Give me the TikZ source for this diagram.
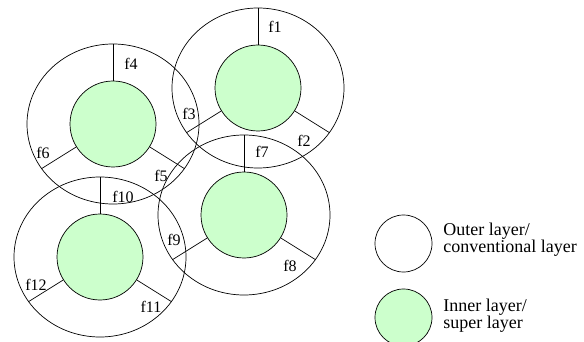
\documentclass[tikz,border=0pt]{standalone}
\usepackage{fontspec}
\setmainfont{Liberation Serif}
\usetikzlibrary{shapes.geometric}
\definecolor{supergreen}{HTML}{CCFFCC}

\begin{document}
\begin{tikzpicture}[x=1pt, y=-1pt, line width=0.7pt,
    outerlayer/.style={draw, ellipse, minimum width=172pt, minimum height=160pt, inner sep=0},
    innerlayer/.style={draw, circle, fill=supergreen, minimum size=86pt, inner sep=0},
    keycircle/.style={draw, circle, minimum size=57pt, inner sep=0},
    freq/.style={font=\fontsize{16}{16}\selectfont, inner sep=0},
    keytext/.style={font=\fontsize{18}{17}\selectfont, align=left, anchor=west, inner sep=0}]
    \useasboundingbox (0,0) rectangle (584,342);
    \clip (0,0) rectangle (584,342);

    % outer layers
    \node[outerlayer] (o1) at (258,88) {};
    \node[outerlayer] (o2) at (113,124) {};
    \node[outerlayer] (o3) at (100,257) {};
    \node[outerlayer] (o4) at (244,215) {};

    % inner layers
    \node[innerlayer] (i1) at (258,88) {};
    \node[innerlayer] (i2) at (113,124) {};
    \node[innerlayer] (i3) at (100,257) {};
    \node[innerlayer] (i4) at (244,215) {};

    % sector borders
    \foreach \c in {1,...,4}{
        \draw (i\c.90) -- (o\c.90);
        \draw (i\c.-32) -- (o\c.-32);
        \draw (i\c.212) -- (o\c.212);
    }

    % frequencies
    \node[freq] (f1) at (275,27) {f1};
    \node[freq] (f2) at (304,141) {f2};
    \node[freq] (f3) at (189,114) {f3};
    \node[freq] (f4) at (131,64) {f4};
    \node[freq] (f5) at (161,176) {f5};
    \node[freq] (f6) at (43,153) {f6};
    \node[freq] (f7) at (262,152) {f7};
    \node[freq] (f8) at (290,266) {f8};
    \node[freq] (f9) at (174,240) {f9};
    \node[freq] (f10) at (123,197) {f10};
    \node[freq] (f11) at (151,307) {f11};
    \node[freq] (f12) at (36,285) {f12};

    % legend
    \node[keycircle] (keyouter) at (403.5,243.5) {};
    \node[keycircle, fill=supergreen] (keyinner) at (403.5,317.5) {};
    \node[keytext] (outertext) at (443,240) {Outer layer/\\conventional layer};
    \node[keytext] (innertext) at (443,316) {Inner layer/\\super layer};
\end{tikzpicture}
\end{document}
